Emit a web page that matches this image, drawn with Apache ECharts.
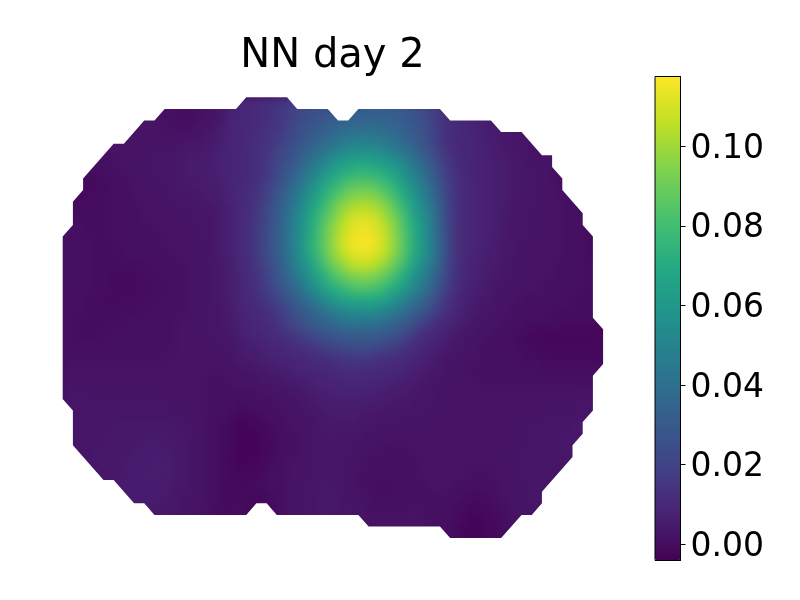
<!DOCTYPE html>
<html>
<head>
<meta charset="utf-8">
<style>
html,body{margin:0;padding:0;background:#fff}
#chart{position:absolute;left:0;top:0;width:800px;height:600px}
/* field layer sits under the overlay, the blur hides the cell blocks */
#fieldClip{position:absolute;left:62px;top:97px;width:542px;height:442px;overflow:hidden}
#field{position:absolute;left:-62px;top:-97px;width:800px;height:600px;filter:blur(5px)}
</style>
<script src="https://cdn.jsdelivr.net/npm/echarts@6/dist/echarts.min.js"></script>
</head>
<body>
<div id="fieldClip"><div id="field"></div></div>
<div id="chart"></div>
<script>
var titleText = 'NN day 2';
var colorTicks = [0, 0.02, 0.04, 0.06, 0.08, 0.10];
var colorMin = -0.0041;
var colorMax = 0.1175;
var viridis = ['#440154','#482475','#414487','#355f8d','#2a788e','#21918c','#22a884','#44bf70','#7ad151','#bddf26','#fde725'];

// field, thousandths, one line per grid row (top to bottom)
var fieldRows = [
[2,2,2,2,2,2,2,2,2,2,2,2,2,3,4,6,8, 9,10,11,13,15,18,21,23,25,27,28,29,30,30,30,29,27,25,21,16,12,9,8,6,5, 4,3,3,2,2,2,2,1,1,1,1],
[2,2,2,2,2,2,2,2,2,1,1,0,0,1,2,3,7, 9,10,11,13,16,19,23,25,27,29,31,32,33,33,33,32,30,27,24,18,13,10,9,7,5, 4,3,3,3,2,2,2,1,1,1,1],
[2,2,2,2,2,2,2,2,2,2,1,1,1,2,3,5,8, 9,10,12,13,16,21,25,28,31,34,36,38,38,38,37,35,32,29,25,19,13,11,9,7,6, 5,4,3,3,2,2,1,1,1,1,1],
[2,2,2,2,2,2,2,2,2,2,2,2,3,3,4,6,8, 9,11,12,15,18,23,27,31,35,39,43,45,46,45,43,40,36,31,26,19,13,10,9,8,6, 5,4,3,3,2,2,1,1,1,1,1],
[1,1,1,1,2,2,2,2,3,3,3,3,4,4,5,7,9, 9,11,13,16,21,26,30,36,41,46,51,54,55,54,51,46,41,35,29,22,14,10,9,8,7, 5,4,3,3,2,2,1,1,1,1,1],
[1,1,1,1,1,2,2,2,3,3,3,4,5,5,6,7,9, 9,11,13,18,23,28,35,42,49,56,61,65,66,65,61,56,49,42,34,26,17,12,9,8,7, 6,5,4,3,2,2,1,0,0,0,0],
[0,0,0,0,1,1,2,2,3,3,3,4,5,5,6,7,9, 9,11,13,18,25,32,40,48,57,65,71,74,76,74,71,65,57,48,39,29,19,13,9,8,7, 6,5,4,3,3,2,1,-1,-1,-1,-1],
[-1,-1,-1,-1,0,1,1,2,2,3,3,4,4,5,5,6,8, 9,11,15,21,28,36,45,55,65,73,80,85,86,85,80,73,64,54,44,33,21,14,10,8,7, 6,5,4,3,3,2,1,0,-2,-2,-2],
[-1,-1,-1,0,0,1,1,2,2,2,3,3,3,4,5,6,8, 10,12,16,24,31,40,50,61,71,81,89,94,96,94,89,80,70,59,48,36,23,14,10,8,7, 6,5,4,3,3,2,2,1,0,-1,-1],
[-1,-1,0,0,0,1,1,1,2,2,2,3,3,3,4,5,7, 10,12,18,25,33,43,54,66,77,88,97,103,105,103,97,88,76,64,52,39,24,14,10,8,7, 6,5,3,3,3,2,2,1,1,0,0],
[0,0,0,0,0,1,1,1,2,2,2,2,3,3,3,5,7, 10,13,18,26,34,45,57,70,82,93,103,110,111,110,103,93,81,68,55,41,25,14,10,8,7, 6,4,3,3,2,2,2,1,1,0,-1],
[1,1,0,0,0,1,1,1,1,2,2,2,2,3,3,5,7, 10,13,19,27,36,46,59,72,85,97,107,113,116,113,107,97,84,70,57,42,26,14,10,8,7, 6,4,3,3,2,2,2,1,1,0,-1],
[1,1,1,0,0,1,1,1,1,1,2,2,2,3,3,5,7, 10,13,19,27,36,47,60,73,86,98,109,115,117,115,109,98,85,71,58,43,26,14,10,8,7, 5,4,3,3,2,2,2,1,1,0,-1],
[1,1,1,0,0,0,1,1,1,1,1,2,2,2,3,5,7, 10,13,19,27,35,46,59,72,84,96,106,112,114,112,106,96,84,70,57,42,26,14,10,8,6, 5,4,3,2,2,2,2,1,1,0,-1],
[1,1,1,0,0,0,0,0,1,1,1,1,2,2,3,4,6, 10,12,18,25,33,44,55,67,79,90,98,105,107,105,98,89,78,65,53,40,25,14,9,7,6, 5,3,3,2,2,2,1,1,1,0,0],
[1,1,1,0,0,-1,-1,0,0,1,1,1,2,2,3,4,6, 9,11,16,24,31,39,49,60,71,81,88,93,95,93,88,80,70,58,47,35,23,13,9,7,5, 4,3,3,2,2,2,1,1,1,0,0],
[1,1,1,0,0,-1,-1,-1,0,0,1,1,2,2,3,4,6, 9,11,15,21,27,35,44,54,63,71,77,82,84,82,77,70,62,52,42,31,20,12,8,6,5, 3,3,2,2,2,1,1,1,1,0,0],
[1,1,0,0,-1,-1,0,0,0,1,1,1,2,2,3,4,6, 9,10,13,18,24,29,36,44,52,59,65,68,69,68,65,58,50,42,34,25,16,10,7,5,4, 3,2,2,1,1,1,1,1,0,0,0],
[1,1,0,0,0,0,0,0,1,1,1,1,2,2,3,3,5, 8,9,11,13,18,24,29,35,41,46,51,54,55,54,50,45,39,33,27,19,13,9,6,4,3, 3,2,1,1,1,1,0,0,0,0,0],
[1,0,0,0,0,0,1,1,1,1,1,2,2,2,3,3,5, 7,9,10,12,16,21,26,30,34,37,40,42,42,41,39,35,30,25,18,12,9,7,5,3,3, 2,1,1,0,0,0,0,-1,-1,-1,-1],
[1,0,0,0,1,1,1,1,1,1,1,2,2,2,3,3,4, 6,8,9,10,12,15,18,23,26,28,30,31,32,31,29,26,23,16,11,9,7,5,3,3,2, 1,1,0,-1,-2,-2,-2,-2,-2,-2,-2],
[1,1,1,1,1,1,1,1,1,1,1,2,2,2,2,3,3, 5,6,7,9,9,11,13,15,18,21,23,24,25,24,21,18,15,11,9,7,5,3,3,2,1, 1,1,0,-1,-1,-2,-2,-2,-2,-2,-2],
[1,1,1,1,1,1,1,1,1,1,2,2,2,2,2,2,3, 4,5,6,7,8,9,9,11,12,13,15,16,16,15,13,12,10,9,7,5,3,3,2,2,1, 1,1,1,0,0,-1,-1,-1,-1,-1,-1],
[2,2,2,2,2,2,2,2,2,2,2,2,2,2,2,2,2, 3,3,4,5,6,7,8,9,9,10,11,11,11,10,10,9,8,7,5,4,3,2,2,1,1, 1,1,1,1,1,0,0,0,0,0,0],
[2,2,2,2,2,2,2,2,2,2,2,2,2,2,1,1,2, 2,2,3,3,4,5,6,7,8,8,9,9,9,9,8,7,6,5,4,3,3,2,2,2,1, 1,1,1,1,1,1,1,1,1,1,1],
[3,3,3,2,2,2,2,2,2,2,2,2,2,2,1,1,1, 1,1,2,2,3,3,4,5,6,7,7,7,7,7,6,5,5,4,3,3,2,2,2,2,2, 2,2,2,2,2,2,2,2,2,2,2],
[3,3,3,3,3,3,3,3,3,3,3,2,2,2,1,1,1, 0,1,1,1,2,2,3,4,5,6,6,6,6,5,5,4,4,3,3,3,2,2,2,2,2, 2,2,2,2,2,2,2,2,3,3,3],
[3,3,3,3,3,3,3,3,3,3,3,3,2,2,1,1,0, -2,-1,0,1,1,2,3,3,4,5,5,5,4,4,3,3,3,3,3,2,2,2,2,2,2, 2,2,2,2,2,3,3,3,3,3,3],
[3,3,3,3,3,4,4,4,4,4,4,3,3,2,1,0,-1, -3,-2,-2,0,1,2,2,3,4,4,4,4,3,3,3,3,2,2,2,2,2,2,2,2,2, 2,2,2,3,3,3,3,3,4,4,4],
[3,3,3,3,4,4,4,4,5,5,4,4,3,2,1,0,-1, -3,-3,-2,-1,1,1,2,3,3,4,3,3,3,2,2,2,2,2,2,2,2,2,2,2,2, 2,2,2,3,3,3,3,4,4,4,4],
[3,3,3,4,4,4,4,5,5,5,5,4,3,2,1,0,-1, -3,-3,-2,-1,1,1,2,3,3,3,3,3,2,2,1,1,1,2,2,2,2,2,2,2,2, 2,2,3,3,3,3,3,4,4,4,4],
[3,3,3,4,4,4,5,5,5,6,5,4,3,2,1,0,-2, -3,-2,-2,0,1,2,2,3,3,3,3,2,2,1,1,1,1,1,2,2,2,2,2,2,2, 2,2,3,3,3,3,3,4,4,4,4],
[3,3,3,4,4,4,5,5,6,6,5,4,3,2,1,0,-1, -2,-2,-1,1,1,2,2,3,3,3,3,2,1,1,1,1,1,1,2,2,2,2,2,1,1, 2,2,3,3,3,3,3,3,3,3,3],
[3,3,3,4,4,5,5,5,5,5,5,4,3,2,1,0,-1, -1,-1,0,1,1,2,3,3,4,3,3,2,1,1,0,1,1,1,1,2,2,1,1,1,1, 1,2,2,3,3,3,3,3,3,3,3],
[3,3,3,4,4,5,5,5,5,5,4,3,3,2,1,0,-1, -1,-1,-1,0,1,2,3,3,4,4,3,2,2,1,1,1,1,1,1,1,1,1,0,-1,0, 1,2,2,3,3,3,3,3,3,3,3],
[3,3,3,4,4,5,5,5,5,4,4,3,2,2,1,-1,-1, 0,-2,-2,-1,1,2,3,3,4,4,3,3,2,1,1,1,1,2,1,1,1,0,-1,-2,-1, 0,1,2,3,3,3,3,3,3,3,3],
[3,3,3,4,4,5,5,4,4,4,3,3,2,1,1,0,0, 0,-1,-2,-1,1,2,3,3,4,3,3,3,2,2,2,2,2,2,2,1,1,0,-2,-3,-2, -1,1,2,2,3,3,3,3,3,3,3],
[3,3,3,4,4,4,4,4,4,3,3,3,2,1,1,0,0, 0,0,-1,0,1,2,3,3,3,3,3,3,2,2,2,2,2,2,2,1,1,-1,-3,-3,-2, -1,0,2,2,3,3,3,3,3,3,3]
];

// outline of the field, in grid cell units
var outlineX = [0,1,1,2,2,5,6,8,9,10,17,18,22,23,26,27,28,29,37,38,42,43,45,47,48,48,49,49,51,51,52,52,53,53,52,52,51,51,50,50,47,47,46,45,43,38,37,30,29,21,20,19,18,9,8,7,5,4,1,1,0];
var outlineY = [12,11,9,8,7,4,4,2,2,1,1,0,0,1,1,2,2,1,1,2,2,3,3,5,5,6,7,8,10,11,12,19,20,23,24,27,28,29,30,31,34,35,36,36,38,38,37,37,36,36,35,35,36,36,35,35,33,33,30,27,26];

var colCount = fieldRows[0].length;
var rowCount = fieldRows.length;

var heatData = [];
fieldRows.forEach(function(row, r) {
    row.forEach(function(v, c) {
        heatData.push([c, r, v / 1000]);
    });
});

var xCats = fieldRows[0].map(function(v, i) { return i; });
var yCats = fieldRows.map(function(v, i) { return i; });

var fieldGrid = { left: 62.7, top: 97.3, width: 540.4, height: 440.8, show: false };

// white sheet with the outline cut out of it, trims the cells to the field's edge
function renderMask(params, api) {
    var pts = [[-1, 12], [-1, rowCount + 1], [colCount + 1, rowCount + 1], [colCount + 1, -1], [-1, -1], [-1, 12]];
    outlineX.forEach(function(x, i) {
        pts.push([x, outlineY[i]]);
    });
    pts.push([outlineX[0], outlineY[0]]);
    return {
        type: 'polygon',
        shape: { points: pts.map(function(p) { return api.coord(p); }) },
        style: { fill: '#ffffff' }
    };
}

var fieldOptions = {
    animation: false,
    backgroundColor: '#460b5e',
    tooltip: { show: false },
    visualMap: {
        type: 'continuous',
        show: false,
        min: colorMin,
        max: colorMax,
        inRange: { color: viridis }
    },
    grid: fieldGrid,
    xAxis: { type: 'category', data: xCats, show: false },
    yAxis: { type: 'category', data: yCats, inverse: true, show: false },
    series: [{
        name: 'field',
        type: 'heatmap',
        data: heatData,
        progressive: 0,
        silent: true,
        itemStyle: { borderWidth: 0 }
    }]
};

var options = {
    animation: false,
    backgroundColor: 'transparent',
    title: {
        text: titleText,
        left: 327.5,
        top: 32,
        textAlign: 'center',
        textStyle: { fontFamily: 'DejaVu Sans', fontSize: 40, fontWeight: 'normal', color: '#000' }
    },
    tooltip: { show: false },
    visualMap: {
        type: 'continuous',
        seriesIndex: 0,
        min: colorMin,
        max: colorMax,
        calculable: false,
        realtime: false,
        orient: 'vertical',
        left: 655,
        top: 76.5,
        padding: 0,
        itemWidth: 25.5,
        itemHeight: 484,
        text: null,
        showLabel: false,
        z: 1,
        inRange: { color: viridis }
    },
    grid: [
        fieldGrid,
        { left: 655, top: 76.5, width: 25.5, height: 484, show: true, z: 8, backgroundColor: 'transparent', borderColor: '#000', borderWidth: 1 }
    ],
    xAxis: [
        { type: 'value', gridIndex: 0, min: 0, max: colCount, show: false },
        { type: 'value', gridIndex: 1, min: 0, max: 1, show: false }
    ],
    yAxis: [
        { type: 'value', gridIndex: 0, min: 0, max: rowCount, inverse: true, show: false },
        {
            type: 'value',
            gridIndex: 1,
            position: 'right',
            min: colorMin,
            max: colorMax,
            z: 9,
            axisLine: { show: true, onZero: false, lineStyle: { color: '#000', width: 1 } },
            axisTick: { show: true, inside: false, length: 5, lineStyle: { color: '#000', width: 1 }, customValues: colorTicks },
            axisLabel: {
                show: true,
                margin: 10,
                customValues: colorTicks,
                color: '#000',
                formatter: function(v) { return '{t|' + v.toFixed(2) + '}'; },
                rich: {
                    t: { fontFamily: 'DejaVu Sans', fontSize: 33, color: '#000', padding: [6, 0, 0, 0] }
                }
            },
            splitLine: { show: false }
        }
    ],
    series: [
        {
            name: 'mask',
            type: 'custom',
            xAxisIndex: 0,
            yAxisIndex: 0,
            data: [[0, 0]],
            clip: false,
            silent: true,
            z: 3,
            renderItem: renderMask
        }
    ]
};

var fieldPlot = echarts.init(document.getElementById('field'), null, { renderer: 'canvas' });
fieldPlot.setOption(fieldOptions);

var plot = echarts.init(document.getElementById('chart'), null, { renderer: 'canvas' });
plot.setOption(options);
</script>
</body>
</html>
